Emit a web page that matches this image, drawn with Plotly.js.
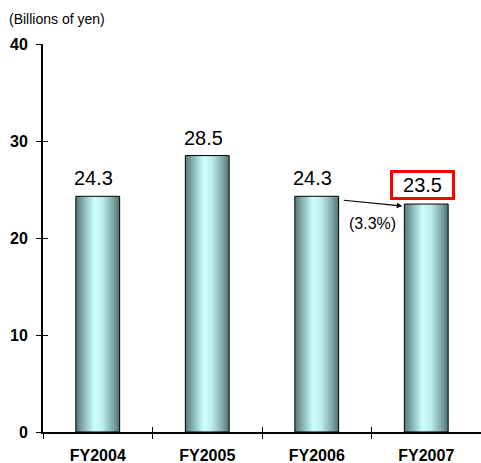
<!DOCTYPE html>
<html>
<head>
<meta charset="utf-8">
<script src="https://cdn.plot.ly/plotly-3.0.1.min.js"></script>
<style>
  html, body { margin: 0; padding: 0; background: #fff; }
  #chart { width: 481px; height: 463px; }
</style>
</head>
<body>
<div id="chart"></div>
<script>
// Fiscal years and amounts (billions of yen)
const years = ['FY2004', 'FY2005', 'FY2006', 'FY2007'];
const amounts = [24.3, 28.5, 24.3, 23.5];
const valueLabels = ['24.3', '28.5', '24.3', '23.5'];
const changeLabel = '(3.3%)';
const unitLabel = '(Billions of yen)';
const yTicks = [0, 10, 20, 30, 40];

const font = 'Arial, "Liberation Sans", sans-serif';

const bars = {
  type: 'bar',
  x: years,
  y: amounts,
  width: 0.4,
  marker: { color: '#a6dede', line: { color: '#000', width: 1 } },
  hoverinfo: 'skip'
};

// Value labels above bars; the last one sits in a red box
const annotations = years.map((yr, i) => {
  const last = i === years.length - 1;
  const a = {
    x: yr, y: amounts[i], xref: 'x', yref: 'y',
    text: valueLabels[i], showarrow: false,
    yanchor: 'middle', xshift: -4, yshift: last ? 19 : 18,
    font: { family: font, size: 20, color: '#000' }
  };
  if (last) {
    Object.assign(a, {
      bordercolor: '#ff0000', borderwidth: 3, borderpad: 1,
      bgcolor: '#fff', width: 57, height: 22
    });
  }
  return a;
});

// Arrow from the FY2006 level down to the FY2007 bar, with the change rate
annotations.push({
  x: years[3], y: amounts[3], xref: 'x', yref: 'y',
  ax: -60, ay: -6, axref: 'pixel', ayref: 'pixel',
  xshift: -24, yshift: -2,
  text: '', showarrow: true, arrowhead: 2, arrowsize: 1, arrowwidth: 1.1,
  arrowcolor: '#000', standoff: 0
});
annotations.push({
  x: 2.5, y: amounts[3], xref: 'x', yref: 'y',
  text: changeLabel, showarrow: false, xshift: 1, yshift: -19,
  font: { family: font, size: 16, color: '#000' }
});
annotations.push({
  x: 0, y: 1, xref: 'paper', yref: 'paper',
  xanchor: 'left', yanchor: 'middle', xshift: -36, yshift: 25,
  text: unitLabel, showarrow: false,
  font: { family: font, size: 14, color: '#000' }
});

const layout = {
  width: 481, height: 463,
  margin: { l: 43, r: 0, t: 44, b: 31, pad: 0 },
  paper_bgcolor: '#fff', plot_bgcolor: '#fff',
  showlegend: false,
  xaxis: {
    type: 'category', range: [-0.5, 3.5],
    showline: true, linecolor: '#000', linewidth: 2,
    ticks: 'outside', ticklen: 5, tickwidth: 1, tickcolor: '#000',
    tickson: 'boundaries',
    showgrid: false, zeroline: false,
    ticklabelstandoff: 8,
    tickfont: { family: font, size: 16, color: '#000', weight: 'bold' },
    fixedrange: true
  },
  yaxis: {
    range: [0, 40], tickvals: yTicks, ticktext: yTicks.map(String),
    showline: true, linecolor: '#000', linewidth: 2,
    ticks: 'outside', ticklen: 5, tickwidth: 1, tickcolor: '#000',
    showgrid: false, zeroline: false,
    ticklabelstandoff: 5,
    tickfont: { family: font, size: 16, color: '#000', weight: 'bold' },
    fixedrange: true
  },
  // overlay axes provide the inner half of the crossing tick marks
  xaxis2: {
    overlaying: 'x', type: 'category', range: [-0.5, 3.5],
    matches: 'x', tickson: 'boundaries',
    ticks: 'inside', ticklen: 5, tickwidth: 1, tickcolor: '#000',
    showticklabels: false, showline: false, showgrid: false, zeroline: false
  },
  yaxis2: {
    overlaying: 'y', range: [0, 40], tickvals: yTicks,
    ticks: 'inside', ticklen: 5, tickwidth: 1, tickcolor: '#000',
    showticklabels: false, showline: false, showgrid: false, zeroline: false
  },
  annotations: annotations
};

const ghost = {
  type: 'bar', x: years, y: years.map(() => null),
  xaxis: 'x2', yaxis: 'y2', hoverinfo: 'skip', showlegend: false
};

Plotly.newPlot('chart', [bars, ghost], layout, { displayModeBar: false, staticPlot: true })
  .then(gd => {
    // Cylindrical shading for the bars
    const svgNS = 'http://www.w3.org/2000/svg';
    const svg = gd.querySelector('svg.main-svg');
    let defs = svg.querySelector('defs');
    if (!defs) { defs = document.createElementNS(svgNS, 'defs'); svg.insertBefore(defs, svg.firstChild); }
    const grad = document.createElementNS(svgNS, 'linearGradient');
    grad.setAttribute('id', 'barShade');
    grad.setAttribute('x1', '0'); grad.setAttribute('y1', '0');
    grad.setAttribute('x2', '1'); grad.setAttribute('y2', '0');
    [['0', '#557a7a'], ['0.18', '#88b4b4'], ['0.42', '#ccffff'], ['0.6', '#bdeeee'], ['0.85', '#7fa8a8'], ['1', '#4f7272']]
      .forEach(([o, c]) => {
        const s = document.createElementNS(svgNS, 'stop');
        s.setAttribute('offset', o); s.setAttribute('stop-color', c);
        grad.appendChild(s);
      });
    defs.appendChild(grad);
    gd.querySelectorAll('.barlayer .trace:first-child .point path').forEach(p => {
      p.style.fill = 'url(#barShade)';
    });
  });
</script>
</body>
</html>
